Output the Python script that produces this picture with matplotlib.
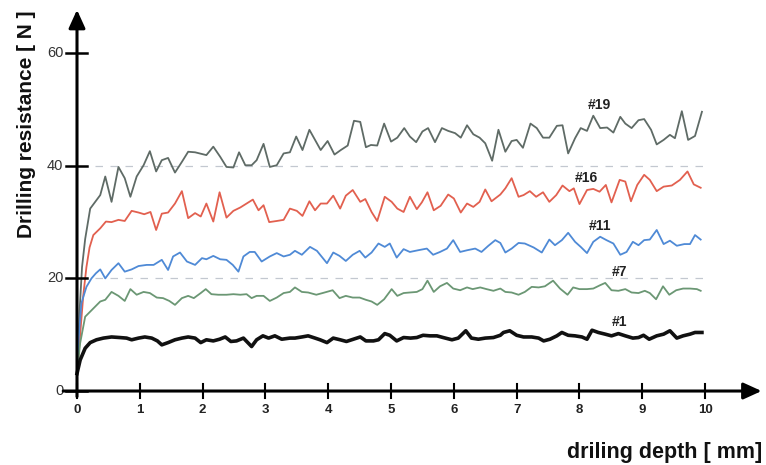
import matplotlib

matplotlib.use("Agg")
import matplotlib.pyplot as plt

plt.rcParams["font.family"] = ["Liberation Sans", "DejaVu Sans"]

# drilling depth [mm] / resistance [N]
S19_X = [0, 0.04, 0.08, 0.13, 0.21, 0.29, 0.37, 0.45, 0.55, 0.66, 0.76, 0.85, 0.95, 1.06, 1.16,
         1.26, 1.35, 1.45, 1.56, 1.67, 1.77, 1.88, 2.06, 2.17, 2.28, 2.38, 2.49, 2.58, 2.68, 2.78,
         2.86, 2.97, 3.07, 3.18, 3.29, 3.39, 3.49, 3.59, 3.70, 3.79, 3.88, 3.99, 4.10, 4.20, 4.31,
         4.41, 4.51, 4.60, 4.68, 4.78, 4.89, 5.00, 5.10, 5.21, 5.30, 5.40, 5.50, 5.59, 5.70, 5.81,
         5.91, 6.02, 6.11, 6.21, 6.31, 6.41, 6.50, 6.61, 6.71, 6.82, 6.92, 7.00, 7.10, 7.22, 7.32,
         7.42, 7.52, 7.64, 7.73, 7.82, 7.93, 8.02, 8.12, 8.22, 8.33, 8.44, 8.54, 8.65, 8.73, 8.83,
         8.94, 9.03, 9.14, 9.23, 9.34, 9.44, 9.52, 9.63, 9.73, 9.84, 9.95]
S19_Y = [3, 14, 22, 27, 32.4, 33.6, 34.8, 38.1, 33.6, 39.8, 37.8, 34.5, 38.1, 40.1, 42.6,
         39.0, 41.0, 41.4, 38.8, 40.7, 42.5, 42.4, 41.9, 43.4, 41.6, 39.8, 39.7, 42.4, 40.1, 40.1,
         41.0, 43.9, 39.8, 40.1, 42.2, 42.4, 45.2, 42.8, 46.4, 44.6, 42.8, 44.4, 42.0, 42.8, 43.6,
         48.0, 47.8, 43.3, 43.7, 43.6, 47.5, 44.3, 45.0, 46.7, 45.2, 44.2, 46.1, 46.7, 44.2, 46.7,
         46.2, 45.8, 45.0, 47.2, 45.6, 45.0, 44.0, 40.9, 46.4, 42.5, 44.4, 44.6, 43.2, 47.5, 46.7,
         45.0, 45.0, 47.1, 47.2, 42.2, 44.9, 46.7, 46.2, 48.9, 46.7, 46.8, 45.9, 48.7, 47.5, 46.7,
         48.1, 48.3, 46.4, 43.8, 44.6, 45.5, 44.9, 49.7, 44.6, 45.3, 49.6]

S16_X = [0, 0.05, 0.10, 0.15, 0.20, 0.26, 0.37, 0.46, 0.55, 0.66, 0.76, 0.87, 0.98, 1.07, 1.17,
         1.26, 1.35, 1.45, 1.56, 1.67, 1.77, 1.88, 1.97, 2.06, 2.17, 2.27, 2.38, 2.49, 2.60, 2.70,
         2.80, 2.89, 2.97, 3.06, 3.18, 3.29, 3.39, 3.50, 3.59, 3.70, 3.79, 3.88, 3.98, 4.08, 4.19,
         4.28, 4.39, 4.51, 4.59, 4.69, 4.78, 4.90, 5.01, 5.10, 5.20, 5.30, 5.41, 5.49, 5.58, 5.68,
         5.79, 5.91, 6.00, 6.11, 6.21, 6.31, 6.41, 6.50, 6.60, 6.74, 6.82, 6.92, 7.03, 7.11, 7.21,
         7.31, 7.42, 7.52, 7.63, 7.73, 7.84, 7.91, 8.00, 8.12, 8.22, 8.32, 8.42, 8.51, 8.64, 8.73,
         8.82, 8.92, 9.03, 9.12, 9.23, 9.34, 9.47, 9.60, 9.72, 9.82, 9.93]
S16_Y = [3, 10, 17, 22, 25.5, 27.7, 28.9, 30.1, 30.0, 30.4, 30.2, 32.0, 31.7, 31.4, 31.8,
         28.6, 31.5, 31.7, 33.3, 35.5, 30.7, 31.6, 31.0, 33.3, 30.1, 35.3, 30.8, 32.0, 32.6, 33.3,
         34.0, 32.1, 33.0, 30.0, 30.2, 30.4, 32.4, 32.0, 31.1, 33.7, 32.1, 33.3, 33.3, 34.7, 32.4,
         34.7, 35.7, 33.6, 34.1, 31.8, 30.2, 34.5, 33.6, 32.4, 31.8, 34.5, 32.3, 33.5, 35.3, 32.1,
         32.9, 34.9, 34.2, 31.7, 33.3, 32.7, 33.6, 35.8, 33.7, 34.9, 36.0, 37.8, 34.5, 34.8, 35.5,
         34.5, 35.3, 33.6, 34.8, 36.5, 35.5, 36.0, 33.2, 35.7, 35.9, 35.4, 36.6, 33.5, 37.5, 37.2,
         33.7, 36.6, 38.4, 37.5, 35.5, 36.3, 36.5, 37.5, 39.0, 36.7, 36.1]

S11_X = [0, 0.03, 0.07, 0.15, 0.23, 0.30, 0.37, 0.45, 0.55, 0.66, 0.76, 0.87, 0.98, 1.11, 1.22,
         1.35, 1.45, 1.53, 1.64, 1.75, 1.88, 1.99, 2.06, 2.17, 2.28, 2.38, 2.48, 2.57, 2.65, 2.75,
         2.83, 2.94, 3.07, 3.18, 3.29, 3.39, 3.47, 3.58, 3.71, 3.82, 3.98, 4.08, 4.18, 4.28, 4.39,
         4.50, 4.59, 4.69, 4.80, 4.90, 4.98, 5.09, 5.20, 5.30, 5.43, 5.57, 5.67, 5.78, 5.89, 5.99,
         6.10, 6.21, 6.34, 6.44, 6.55, 6.66, 6.74, 6.82, 6.92, 7.03, 7.13, 7.27, 7.40, 7.52, 7.61,
         7.72, 7.82, 7.93, 8.02, 8.12, 8.22, 8.33, 8.43, 8.54, 8.65, 8.75, 8.85, 8.94, 9.03, 9.12,
         9.23, 9.34, 9.44, 9.55, 9.67, 9.76, 9.84, 9.93]
S11_Y = [3, 10, 15.6, 18.5, 20.0, 20.9, 21.6, 20.0, 21.5, 22.7, 21.2, 21.6, 22.2, 22.4, 22.4,
         23.3, 21.5, 23.9, 24.6, 23.0, 22.4, 23.6, 23.4, 24.0, 23.4, 23.3, 22.4, 21.2, 23.9, 24.7,
         24.7, 23.0, 23.9, 24.5, 23.9, 24.2, 24.9, 24.2, 25.6, 24.9, 22.7, 24.6, 24.0, 23.1, 24.2,
         24.9, 23.7, 24.6, 26.2, 25.6, 26.2, 23.7, 25.2, 24.7, 25.0, 25.3, 24.2, 24.7, 25.3, 26.8,
         24.7, 25.0, 25.3, 24.7, 25.8, 26.8, 26.3, 24.6, 25.3, 26.3, 26.2, 25.5, 24.6, 26.9, 25.9,
         26.8, 28.1, 26.5, 25.6, 24.5, 26.5, 27.4, 26.8, 26.2, 24.2, 24.7, 26.5, 25.9, 26.8, 26.9,
         28.6, 26.1, 26.7, 25.8, 26.1, 26.1, 27.7, 26.9]

S7_X = [0, 0.05, 0.13, 0.21, 0.29, 0.37, 0.45, 0.55, 0.66, 0.76, 0.85, 0.95, 1.06, 1.16, 1.27,
        1.37, 1.47, 1.56, 1.67, 1.77, 1.86, 1.97, 2.05, 2.14, 2.25, 2.38, 2.49, 2.60, 2.70, 2.78,
        2.86, 2.97, 3.07, 3.18, 3.29, 3.39, 3.47, 3.58, 3.68, 3.81, 3.91, 4.07, 4.18, 4.28, 4.39,
        4.50, 4.60, 4.69, 4.78, 4.89, 5.01, 5.10, 5.20, 5.30, 5.41, 5.50, 5.58, 5.68, 5.78, 5.89,
        5.99, 6.10, 6.21, 6.30, 6.42, 6.52, 6.63, 6.74, 6.82, 6.92, 7.03, 7.13, 7.24, 7.35, 7.45,
        7.58, 7.69, 7.81, 7.90, 8.00, 8.12, 8.22, 8.33, 8.41, 8.51, 8.62, 8.73, 8.83, 8.94, 9.04,
        9.12, 9.22, 9.33, 9.43, 9.54, 9.65, 9.76, 9.87, 9.93]
S7_Y = [3.0, 8.5, 13.2, 14.1, 15.0, 15.9, 16.2, 17.6, 16.9, 16.0, 18.1, 17.1, 17.6, 17.4, 16.6,
        16.5, 16.0, 15.3, 16.5, 16.9, 16.5, 17.4, 18.1, 17.2, 17.1, 17.1, 17.2, 17.1, 17.2, 16.5,
        16.9, 16.9, 16.0, 16.6, 17.4, 17.6, 18.4, 17.6, 17.5, 17.1, 17.4, 17.9, 16.5, 16.9, 16.6,
        16.6, 16.2, 15.9, 15.3, 16.3, 18.1, 16.9, 17.4, 17.5, 17.6, 18.1, 19.6, 17.6, 18.6, 19.2,
        18.2, 17.9, 18.4, 18.1, 18.4, 18.1, 17.8, 18.2, 17.6, 17.5, 17.1, 17.6, 18.5, 18.4, 18.6,
        19.6, 18.2, 17.1, 18.4, 18.1, 18.1, 18.2, 18.8, 19.2, 17.9, 17.8, 18.1, 17.5, 17.4, 17.8,
        17.4, 16.3, 18.6, 17.1, 17.9, 18.2, 18.2, 18.1, 17.8]

S1_X = [0, 0.05, 0.13, 0.21, 0.31, 0.42, 0.55, 0.68, 0.79, 0.87, 0.98, 1.08, 1.19, 1.28, 1.35,
        1.45, 1.56, 1.67, 1.77, 1.88, 1.97, 2.06, 2.17, 2.27, 2.36, 2.45, 2.54, 2.65, 2.78, 2.86,
        2.96, 3.05, 3.15, 3.26, 3.39, 3.47, 3.58, 3.68, 3.79, 3.87, 3.98, 4.08, 4.19, 4.29, 4.40,
        4.51, 4.60, 4.72, 4.80, 4.90, 4.98, 5.09, 5.20, 5.31, 5.41, 5.51, 5.62, 5.73, 5.83, 5.97,
        6.07, 6.19, 6.28, 6.39, 6.50, 6.63, 6.74, 6.79, 6.89, 7.00, 7.11, 7.24, 7.35, 7.43, 7.53,
        7.64, 7.72, 7.82, 7.93, 8.04, 8.12, 8.20, 8.30, 8.41, 8.51, 8.62, 8.73, 8.85, 8.94, 9.02,
        9.11, 9.23, 9.34, 9.44, 9.55, 9.65, 9.76, 9.84, 9.95]
S1_Y = [3.1, 5.5, 7.6, 8.6, 9.1, 9.4, 9.6, 9.5, 9.4, 9.1, 9.4, 9.6, 9.4, 8.9, 8.2,
        8.6, 9.1, 9.4, 9.6, 9.4, 8.6, 9.1, 8.9, 9.2, 9.6, 8.8, 8.9, 9.4, 7.9, 9.1,
        9.8, 9.4, 9.8, 9.2, 9.4, 9.4, 9.6, 9.8, 9.4, 9.1, 8.6, 9.4, 9.1, 8.8, 9.2,
        9.6, 8.9, 8.9, 9.1, 10.2, 9.9, 8.9, 9.5, 9.4, 9.5, 9.9, 9.8, 9.8, 9.5, 9.1,
        9.4, 10.7, 9.4, 9.2, 9.4, 9.5, 9.9, 10.4, 10.7, 9.9, 9.6, 9.6, 9.4, 8.9, 9.2,
        9.8, 10.4, 9.9, 9.8, 9.6, 9.2, 10.8, 10.4, 10.1, 9.8, 10.2, 9.8, 9.4, 9.5, 9.9,
        9.2, 9.8, 10.1, 10.7, 9.4, 9.8, 10.1, 10.4, 10.4]

LABELS = ["#19", "#16", "#11", "#7", "#1"]
LABEL_POS = [(8.31, 50.8), (8.11, 37.8), (8.32, 29.3), (8.64, 21.2), (8.63, 12.3)]
COLORS = ["#5f6b66", "#e2604f", "#4f8ad6", "#6b9774", "#111111"]
WIDTHS = [1.3, 1.3, 1.3, 1.3, 2.6]
SERIES = [(S19_X, S19_Y), (S16_X, S16_Y), (S11_X, S11_Y), (S7_X, S7_Y), (S1_X, S1_Y)]

X_TICKS = list(range(0, 11))
Y_TICKS = [0, 20, 40, 60]
GRID_Y = [20, 40]

fig = plt.figure(figsize=(7.66, 4.65), dpi=100)
ax = fig.add_axes([0, 0, 1, 1])
ax.set_xlim(-1.226, 10.97)
ax.set_ylim(-13.14, 69.45)
ax.axis("off")

for g in GRID_Y:
    ax.plot([0.05, 10.0], [g, g], color="#c3c8d0", lw=0.9, dashes=(6, 6), zorder=1)

for (xs, ys), c, w in zip(SERIES, COLORS, WIDTHS):
    ax.plot(xs, ys, color=c, lw=w, solid_joinstyle="round", zorder=3)

for lab, (lx, ly) in zip(LABELS, LABEL_POS):
    ax.text(lx, ly, lab, ha="center", va="center", fontsize=10,
            fontweight="bold", color="#222222", zorder=4)

# axes with arrow heads
arrow = dict(arrowstyle="-|>,head_length=1.1,head_width=0.5", lw=2.2,
             color="black", shrinkA=0, shrinkB=0)
ax.annotate("", xy=(0, 67.7), xytext=(0, -1.0), arrowprops=arrow, zorder=5)
ax.annotate("", xy=(10.9, 0), xytext=(-0.22, 0), arrowprops=arrow, zorder=5)

for t in X_TICKS:
    ax.plot([t, t], [-1.2, 1.2], color="black", lw=1.5, zorder=5)
    ax.text(t, -3.3, str(t), ha="center", va="center", fontsize=9.5,
            fontweight="bold", color="#222222")
for t in Y_TICKS:
    ax.plot([-0.17, 0.16], [t, t], color="black", lw=1.8, zorder=5)
    ax.text(-0.22, t, str(t), ha="right", va="center", fontsize=10.5, color="#333333")

ax.text(-0.80, 47.4, "Drilling resistance [ N ]", rotation=90, ha="center", va="center",
        fontsize=15, fontweight="bold", color="#111111")
ax.text(10.91, -10.9, "driling depth [ mm]", ha="right", va="center",
        fontsize=15.5, fontweight="bold", color="#111111")

fig.savefig("out.png", dpi=100)
